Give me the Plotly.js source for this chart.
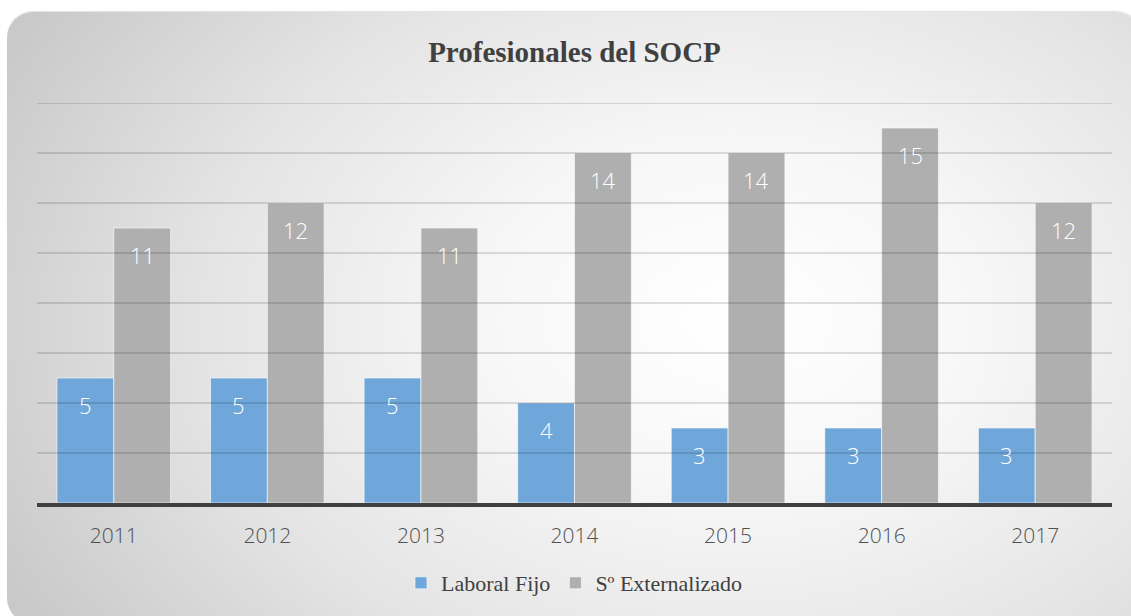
<!DOCTYPE html>
<html>
<head>
<meta charset="utf-8">
<script src="https://cdn.plot.ly/plotly-3.0.1.min.js"></script>
<style>
  html, body { margin: 0; padding: 0; background: #ffffff; overflow: hidden; }
  #card {
    position: absolute; left: 7px; top: 12px; width: 1135px; height: 612px;
    border-radius: 26px;
    background: radial-gradient(ellipse 72% 95% at 64% 50%, #ffffff 0%, #f7f7f7 30%, #e4e4e4 65%, #c9c9c9 100%);
    box-shadow: 0 -1px 1px rgba(0,0,0,0.12);
  }
  #chart { position: absolute; left: 0; top: 0; width: 1131px; height: 616px; }
</style>
</head>
<body>
<div id="card"></div>
<div id="chart"></div>
<script>
const years = ['2011', '2012', '2013', '2014', '2015', '2016', '2017'];
const laboralFijo = [5, 5, 5, 4, 3, 3, 3];
const externalizado = [11, 12, 11, 14, 14, 15, 12];
const seriesNames = ['Laboral Fijo', 'Sº Externalizado'];
const gridValues = [2, 4, 6, 8, 10, 12, 14, 16];

const barGap = 0.26;
const barW = (1 - barGap) / 2;

const traces = [
  {
    type: 'bar', name: seriesNames[0], x: years, y: laboralFijo,
    marker: { color: '#6fa7da', line: { color: 'rgba(255,255,255,0.6)', width: 1 } },
    hoverinfo: 'x+y+name'
  },
  {
    type: 'bar', name: seriesNames[1], x: years, y: externalizado,
    marker: { color: '#afafaf', line: { color: 'rgba(255,255,255,0.6)', width: 1 } },
    hoverinfo: 'x+y+name'
  }
];

const annotations = [];
[laboralFijo, externalizado].forEach((vals, s) => {
  vals.forEach((v, i) => {
    annotations.push({
      x: i + (s === 0 ? -barW / 2 : barW / 2), y: v, xref: 'x', yref: 'y',
      text: String(v), showarrow: false, yshift: -27,
      font: { family: 'Open Sans, Roboto, sans-serif', size: 22, color: '#ffffff', weight: 300 }
    });
  });
});

const shapes = gridValues.map(g => ({
  type: 'line', xref: 'paper', x0: 0, x1: 1, yref: 'y', y0: g, y1: g,
  layer: 'above', line: { color: 'rgba(0,0,0,0.17)', width: 1.3 }
}));

const layout = {
  width: 1131, height: 616,
  margin: { l: 37, r: 19, t: 103, b: 113 },
  paper_bgcolor: 'rgba(0,0,0,0)',
  plot_bgcolor: 'rgba(0,0,0,0)',
  title: {
    text: '<b>Profesionales del SOCP</b>',
    x: 0.5, xref: 'paper', y: 1 - 52 / 616, yanchor: 'middle', xanchor: 'center',
    font: { family: 'Liberation Serif, DejaVu Serif, serif', size: 29, color: '#404040' }
  },
  barmode: 'group', bargap: barGap, bargroupgap: 0,
  xaxis: {
    type: 'category', showgrid: false, showline: true, linecolor: '#404040', linewidth: 3.5,
    ticks: '', tickfont: { family: 'Open Sans, Roboto, sans-serif', size: 21, color: '#505050', weight: 300 },
    ticklabelstandoff: 11
  },
  yaxis: {
    range: [0, 16], showgrid: false, zeroline: false, showticklabels: false, ticks: '', fixedrange: true
  },
  shapes: shapes,
  annotations: annotations,
  showlegend: true,
  legend: {
    orientation: 'h', x: 0.5, xanchor: 'center', y: -0.2, yanchor: 'middle',
    font: { family: 'Liberation Serif, DejaVu Serif, serif', size: 22, color: '#404040' },
    bgcolor: 'rgba(0,0,0,0)', itemwidth: 30, traceorder: 'normal'
  }
};

Plotly.newPlot('chart', traces, layout, { displayModeBar: false, staticPlot: true });
</script>
</body>
</html>
